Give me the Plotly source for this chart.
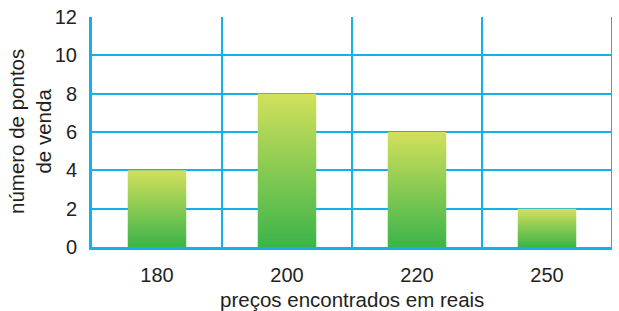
import plotly.graph_objects as go

categories = ["180", "200", "220", "250"]
values = [4, 8, 6, 2]
y_ticks = [0, 2, 4, 6, 8, 10, 12]
x_title = "preços encontrados em reais"
y_title = "número de pontos<br>de venda"

grid_color = "#14b0ea"
text_color = "#231f20"
font_family = "Liberation Sans, Arial, sans-serif"
bar_half = 0.225

fig = go.Figure()
for i, v in enumerate(values):
    fig.add_trace(go.Scatter(
        x=[i - bar_half, i + bar_half, i + bar_half, i - bar_half, i - bar_half],
        y=[0, 0, v, v, 0],
        mode="lines",
        fill="toself",
        line=dict(width=0, color="rgba(0,0,0,0)"),
        fillgradient=dict(type="vertical",
                          colorscale=[[0, "#3cb44a"], [1, "#d3e05b"]]),
        hoverinfo="skip",
        showlegend=False,
    ))

shapes = []
for k in range(1, len(categories) + 1):
    shapes.append(dict(type="line", xref="x", yref="paper", x0=k - 0.5, x1=k - 0.5,
                       y0=0, y1=1, line=dict(color=grid_color, width=2), layer="below"))

annotations = [
    dict(text=x_title, xref="paper", yref="paper", x=0.5, y=0, yshift=-52,
         showarrow=False, xanchor="center", yanchor="middle",
         font=dict(size=20.5, color=text_color)),
    dict(text=y_title, xref="paper", yref="paper", x=0, y=0.5, xshift=-62,
         showarrow=False, xanchor="center", yanchor="middle", textangle=-90,
         font=dict(size=20.5, color=text_color)),
]

fig.update_layout(
    width=619, height=311,
    margin=dict(l=92, r=7, t=17, b=64, autoexpand=False),
    paper_bgcolor="white", plot_bgcolor="white",
    font=dict(family=font_family, size=20, color=text_color),
    shapes=shapes,
    annotations=annotations,
    xaxis=dict(
        range=[-0.5, len(categories) - 0.5],
        tickvals=list(range(len(categories))), ticktext=categories,
        showgrid=False, zeroline=False,
        showline=True, linecolor=grid_color, linewidth=3,
        ticks="", ticklabelstandoff=8, automargin=False,
        fixedrange=True,
    ),
    yaxis=dict(
        range=[0, 12], tickvals=y_ticks,
        showgrid=True, gridcolor=grid_color, gridwidth=2,
        zeroline=False,
        showline=True, linecolor=grid_color, linewidth=3,
        ticks="", ticklabelstandoff=8, automargin=False,
        fixedrange=True,
    ),
)

fig.write_html(
    "out.html",
    config={"displayModeBar": False},
    post_script="document.body.style.margin='0';document.body.style.overflow='hidden';",
)
